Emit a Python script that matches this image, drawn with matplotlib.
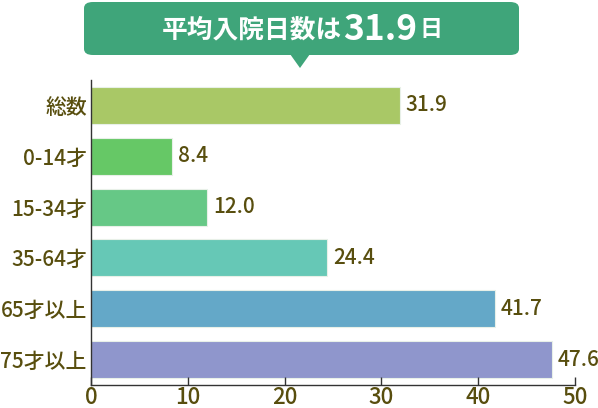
import matplotlib
matplotlib.use("Agg")
import matplotlib.pyplot as plt
from matplotlib.patches import FancyBboxPatch, Polygon

plt.rcParams['font.family'] = ['Noto Sans CJK JP', 'DejaVu Sans']

categories = ["総数", "0-14才", "15-34才", "35-64才", "65才以上", "75才以上"]
values = [31.9, 8.4, 12.0, 24.4, 41.7, 47.6]
colors = ["#a9c866", "#66c866", "#66c886", "#66c8b6", "#64a8c8", "#8f96cc"]
xticks = [0, 10, 20, 30, 40, 50]
title_main = "平均入院日数は"
title_value = "31.9"
title_unit = "日"

text_color = "#584e0e"

fig = plt.figure(figsize=(5.98, 4.08), dpi=100)
ax = fig.add_axes([91/598, 23/408, 484/598, 305/408])

y = list(range(len(categories)))
ax.barh(y, values, height=0.73, color=colors, edgecolor="#e8f0e8", linewidth=0.8)
for yi, v in zip(y, values):
    ax.text(v + 0.6, yi, f"{v:.1f}", va="center", ha="left", fontsize=15, color=text_color,
            fontweight="medium")

ax.set_ylim(5.5, -0.5)
ax.set_xlim(0, 50)
ax.set_yticks(y)
ax.set_yticklabels(categories, fontsize=15, color=text_color, fontweight="medium")
ax.set_xticks(xticks)
ax.set_xticklabels([str(t) for t in xticks], fontsize=16, color=text_color, fontweight="medium")
ax.tick_params(axis='y', length=0, pad=3)
ax.tick_params(axis='x', length=6, width=1, color="#333333", pad=1, direction='in')
for s in ["top", "right"]:
    ax.spines[s].set_visible(False)
ax.spines["left"].set_color("#333333")
ax.spines["bottom"].set_color("#333333")
ax.spines["left"].set_linewidth(1)
ax.spines["bottom"].set_linewidth(1)

# header callout
W, H = 598, 408
green = "#3fa57a"
box = FancyBboxPatch((84/W, 1 - 55/H), (519-84)/W, (55-2)/H,
                     boxstyle="round,pad=0,rounding_size=0.015",
                     transform=fig.transFigure, facecolor=green, edgecolor="none")
fig.patches.append(box)
tri = Polygon([(290/W, 1 - 54/H), (310/W, 1 - 54/H), (300/W, 1 - 68/H)],
              closed=True, transform=fig.transFigure, facecolor=green, edgecolor="none")
fig.patches.append(tri)

t1 = fig.text(162/W, 1 - 30/H, title_main, color="white", fontsize=18.5, fontweight="bold",
              va="center", ha="left")
fig.canvas.draw()
r = fig.canvas.get_renderer()
bb = t1.get_window_extent(r)
t2 = fig.text(bb.x1/W + 1/W, 1 - 29/H, title_value, color="white", fontsize=25.5, fontweight="bold",
              va="center", ha="left")
bb2 = t2.get_window_extent(r)
fig.text(bb2.x1/W + 2/W, 1 - 30/H, title_unit, color="white", fontsize=16.5, fontweight="bold",
         va="center", ha="left")

fig.savefig("out.png", dpi=100)
